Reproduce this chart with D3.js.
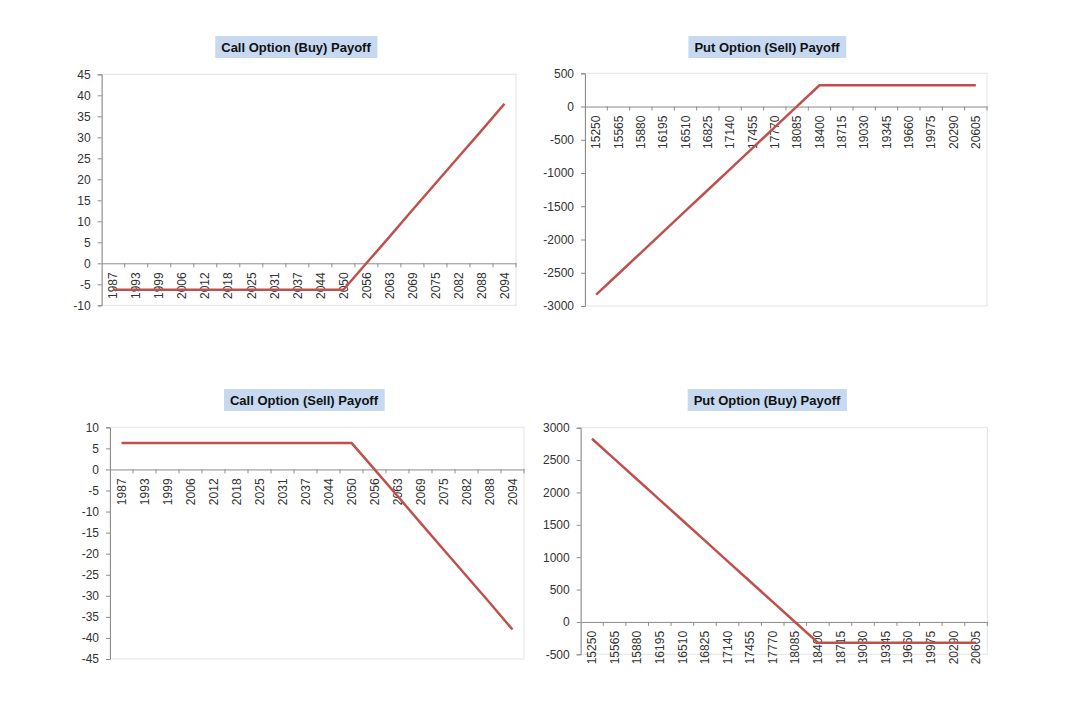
<!DOCTYPE html>
<html>
<head>
<meta charset="utf-8">
<script src="https://cdn.jsdelivr.net/npm/d3@7"></script>
<style>
  body { margin: 0; background: #fff; }
  svg text { font-family: "Liberation Sans", Arial, sans-serif; }
  .tick text { fill: #333; font-size: 12px; }
  .title { font-size: 13px; font-weight: bold; fill: #111; }
</style>
</head>
<body>
<div id="chart"></div>
<script>
// stock price levels on the category axis
var callPrices = ["1987", "1993", "1999", "2006", "2012", "2018", "2025", "2031", "2037",
    "2044", "2050", "2056", "2063", "2069", "2075", "2082", "2088", "2094"];
var putPrices = ["15250", "15565", "15880", "16195", "16510", "16825", "17140", "17455", "17770",
    "18085", "18400", "18715", "19030", "19345", "19660", "19975", "20290", "20605"];

// payoffs
var callBuy = [-6.3, -6.3, -6.3, -6.3, -6.3, -6.3, -6.3, -6.3, -6.3, -6.3, -6.3,
    0.0, 6.3, 12.7, 19.0, 25.3, 31.6, 38.0];
var callSell = [6.3, 6.3, 6.3, 6.3, 6.3, 6.3, 6.3, 6.3, 6.3, 6.3, 6.3,
    0.0, -6.3, -12.7, -19.0, -25.3, -31.6, -38.0];
var putSell = [-2830, -2515, -2200, -1885, -1570, -1255, -940, -625, -310, 5,
    320, 320, 320, 320, 320, 320, 320, 320];
var putBuy = [2830, 2515, 2200, 1885, 1570, 1255, 940, 625, 310, -5,
    -320, -320, -320, -320, -320, -320, -320, -320];

// value axis ticks
var callBuyTicks = [-10, -5, 0, 5, 10, 15, 20, 25, 30, 35, 40, 45];
var callSellTicks = [-45, -40, -35, -30, -25, -20, -15, -10, -5, 0, 5, 10];
var putSellTicks = [-3000, -2500, -2000, -1500, -1000, -500, 0, 500];
var putBuyTicks = [-500, 0, 500, 1000, 1500, 2000, 2500, 3000];

var titles = ["Call Option (Buy) Payoff", "Put Option (Sell) Payoff",
    "Call Option (Sell) Payoff", "Put Option (Buy) Payoff"];

var width = 1082, height = 706;

var svg = d3.select("#chart").append("svg")
    .attr("width", width)
    .attr("height", height);

// where each panel sits on the page
var panels = [
    { cats: callPrices, vals: callBuy, ticks: callBuyTicks, title: titles[0],
      left: 101.7, right: 516, top: 74.3, bottom: 305.3, tx: 296, ty: 36 },
    { cats: putPrices, vals: putSell, ticks: putSellTicks, title: titles[1],
      left: 585, right: 987, top: 73.3, bottom: 306, tx: 767, ty: 36 },
    { cats: callPrices, vals: callSell, ticks: callSellTicks, title: titles[2],
      left: 110, right: 524, top: 427.3, bottom: 659, tx: 304, ty: 389 },
    { cats: putPrices, vals: putBuy, ticks: putBuyTicks, title: titles[3],
      left: 580.7, right: 987.3, top: 427.7, bottom: 654.3, tx: 767, ty: 389 }
];

// plain numbers, ascii minus, no thousands separator
var fmt = function(d) { return String(d); };

panels.forEach(function(p) {
    var g = svg.append("g");

    var x = d3.scaleBand()
        .domain(p.cats)
        .range([p.left, p.right])
        .padding(0);

    var y = d3.scaleLinear()
        .domain([p.ticks[0], p.ticks[p.ticks.length - 1]])
        .range([p.bottom, p.top]);

    // plot area border (light)
    g.append("rect")
        .attr("x", p.left)
        .attr("y", p.top)
        .attr("width", p.right - p.left)
        .attr("height", p.bottom - p.top)
        .attr("fill", "none")
        .attr("stroke", "#e3e3e3")
        .attr("stroke-width", 1);

    // value axis
    var yAxis = g.append("g")
        .attr("transform", "translate(" + p.left + ",0)")
        .call(d3.axisLeft(y).tickValues(p.ticks).tickFormat(fmt).tickSize(4).tickPadding(7));
    yAxis.selectAll("line, path").attr("stroke", "#8c8c8c");

    // category axis crossing at zero
    var xAxis = g.append("g")
        .attr("transform", "translate(0," + y(0) + ")")
        .call(d3.axisBottom(x).tickSize(0).tickSizeOuter(0));
    xAxis.select(".domain").attr("stroke", "#8c8c8c");
    xAxis.selectAll("text")
        .attr("transform", "rotate(-90)")
        .attr("x", -9)
        .attr("y", 0)
        .attr("dy", "0.35em")
        .style("text-anchor", "end");

    // tick marks between categories
    var edges = p.cats.map(function(c) { return x(c); }).concat([x.range()[1]]);
    g.append("g").selectAll("line")
        .data(edges.slice(1))
        .enter()
        .append("line")
        .attr("x1", function(d) { return d; })
        .attr("x2", function(d) { return d; })
        .attr("y1", y(0))
        .attr("y2", y(0) + 4)
        .attr("stroke", "#8c8c8c");

    // payoff line
    var line = d3.line()
        .x(function(d, i) { return x(p.cats[i]) + x.bandwidth() / 2; })
        .y(function(d) { return y(d); });

    g.append("path")
        .datum(p.vals)
        .attr("d", line)
        .attr("fill", "none")
        .attr("stroke", "#c0504d")
        .attr("stroke-width", 2.5)
        .attr("stroke-linejoin", "round");

    // title with shaded box
    var t = g.append("text")
        .attr("class", "title")
        .attr("x", p.tx)
        .attr("y", p.ty + 15.5)
        .attr("text-anchor", "middle")
        .text(p.title);
    var bb = t.node().getBBox();
    g.insert("rect", "text.title")
        .attr("x", bb.x - 6)
        .attr("y", p.ty)
        .attr("width", bb.width + 12)
        .attr("height", 22)
        .attr("fill", "#c6d9f1");
});
</script>
</body>
</html>
